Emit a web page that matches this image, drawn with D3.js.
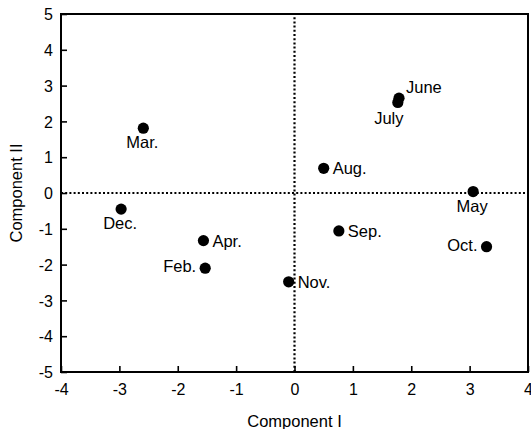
<!DOCTYPE html>
<html>
<head>
<meta charset="utf-8">
<script src="https://cdn.jsdelivr.net/npm/d3@7"></script>
<style>
  body { margin: 0; background: #fff; }
  text { font-family: "Liberation Sans", Arial, sans-serif; fill: #000; }
</style>
</head>
<body>
<svg id="chart" width="531" height="429"></svg>
<script>
// months and their scores on the two components
var months = ["Feb.", "Mar.", "Apr.", "May", "June", "July", "Aug.", "Sep.", "Oct.", "Nov.", "Dec."];
var compI  = [-1.53, -2.59, -1.56, 3.06, 1.79, 1.77, 0.50, 0.76, 3.29, -0.10, -2.97];
var compII = [-2.10, 1.81, -1.33, 0.04, 2.65, 2.53, 0.69, -1.06, -1.50, -2.48, -0.45];

var xTicks = [-4, -3, -2, -1, 0, 1, 2, 3, 4];
var yTicks = [-5, -4, -3, -2, -1, 0, 1, 2, 3, 4, 5];

// where each label sits relative to its dot
var labelSide = {
  "Feb.": "left", "Mar.": "below", "Apr.": "right", "May": "below",
  "June": "upright", "July": "belowleft", "Aug.": "right", "Sep.": "right",
  "Oct.": "left", "Nov.": "right", "Dec.": "below"
};

var svg = d3.select("#chart"),
    margin = {top: 14, right: 3, bottom: 57, left: 61},
    width = +svg.attr("width") - margin.left - margin.right,
    height = +svg.attr("height") - margin.top - margin.bottom;

var g = svg.append("g").attr("transform", "translate(" + margin.left + "," + margin.top + ")");

var x = d3.scaleLinear().domain([-4, 4]).range([0, width]);
var y = d3.scaleLinear().domain([-5, 5]).range([height, 0]);

// dotted zero lines
g.append("line")
    .attr("x1", x(-4)).attr("x2", x(4))
    .attr("y1", y(0)).attr("y2", y(0))
    .attr("stroke", "#000").attr("stroke-width", 2.2)
    .attr("stroke-dasharray", "2,2.2");
g.append("line")
    .attr("x1", x(0)).attr("x2", x(0))
    .attr("y1", y(-5)).attr("y2", y(5))
    .attr("stroke", "#000").attr("stroke-width", 2.2)
    .attr("stroke-dasharray", "2,2.2");

// axes, ticks pointing inward
var xAxis = g.append("g")
    .attr("transform", "translate(0," + height + ")")
    .call(d3.axisBottom(x).tickValues(xTicks).tickSize(-6).tickPadding(12).tickFormat(d3.format("d")));
var yAxis = g.append("g")
    .call(d3.axisLeft(y).tickValues(yTicks).tickSize(-6).tickPadding(12).tickFormat(d3.format("d")));

[xAxis, yAxis].forEach(function (a) {
  a.select(".domain").remove();
  a.selectAll(".tick line").attr("stroke", "#000").attr("stroke-width", 1.6);
  a.selectAll(".tick text")
      .style("font-family", "'Liberation Sans', Arial, sans-serif")
      .style("font-size", "16px")
      .text(function (d) { return d < 0 ? "-" + Math.abs(d) : d; });
});
yAxis.selectAll(".tick text").attr("x", -8).attr("dy", "0.35em");
xAxis.selectAll(".tick text").attr("y", 12);

// frame
g.append("rect")
    .attr("x", 0).attr("y", 0)
    .attr("width", width).attr("height", height)
    .attr("fill", "none").attr("stroke", "#000").attr("stroke-width", 2);

// points
var pts = months.map(function (m, i) { return {name: m, cx: compI[i], cy: compII[i]}; });

g.selectAll("circle.pt")
    .data(pts)
  .enter().append("circle")
    .attr("class", "pt")
    .attr("cx", function (d) { return x(d.cx); })
    .attr("cy", function (d) { return y(d.cy); })
    .attr("r", 5.6)
    .attr("fill", "#000");

var place = {
  right:     {dx: 9,  dy: 6,   anchor: "start"},
  left:      {dx: -9, dy: 4,   anchor: "end"},
  below:     {dx: -1, dy: 20,  anchor: "middle"},
  upright:   {dx: 7,  dy: -5,  anchor: "start"},
  belowleft: {dx: -9, dy: 22,  anchor: "middle"}
};

g.selectAll("text.lbl")
    .data(pts)
  .enter().append("text")
    .attr("class", "lbl")
    .attr("x", function (d) { return x(d.cx) + place[labelSide[d.name]].dx; })
    .attr("y", function (d) { return y(d.cy) + place[labelSide[d.name]].dy; })
    .attr("text-anchor", function (d) { return place[labelSide[d.name]].anchor; })
    .style("font-size", "16.5px")
    .text(function (d) { return d.name; });

// axis titles
svg.append("text")
    .attr("x", margin.left + width / 2)
    .attr("y", 427)
    .attr("text-anchor", "middle")
    .style("font-size", "16.5px")
    .text("Component I");

svg.append("text")
    .attr("transform", "translate(22," + (margin.top + y(0)) + ") rotate(-90)")
    .attr("text-anchor", "middle")
    .style("font-size", "16.5px")
    .text("Component II");
</script>
</body>
</html>
